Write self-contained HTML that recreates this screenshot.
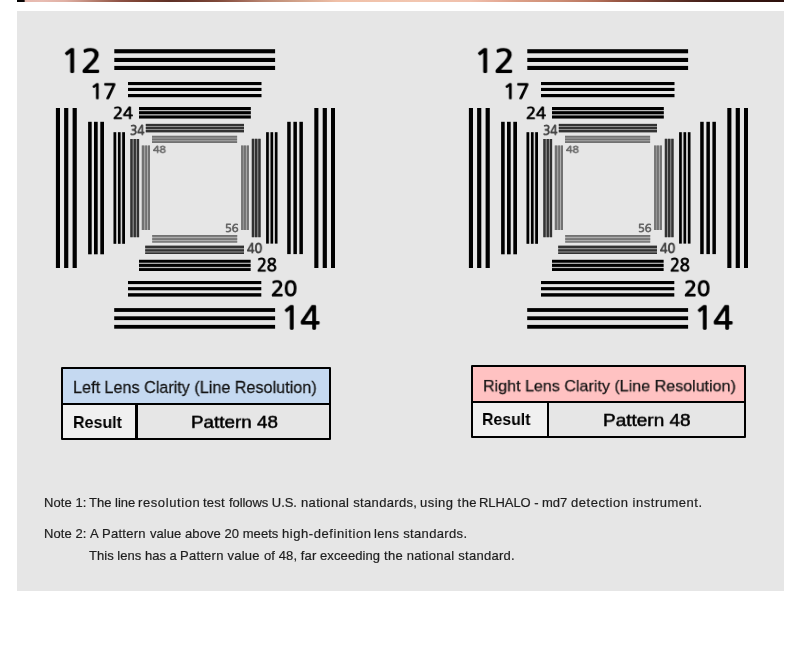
<!DOCTYPE html>
<html lang="en">
<head>
<meta charset="utf-8">
<title>Lens Clarity Line Resolution Test</title>
<style>
html,body{margin:0;padding:0;background:#fff;}
body{width:800px;height:652px;position:relative;overflow:hidden;font-family:"Liberation Sans",sans-serif;color:#1a1a1a;}
.strip,.strip2{position:absolute;left:17px;width:767px;height:1px;
 background:linear-gradient(90deg,#000 0px,#0a0606 7px,#e6b8ae 8.5px,#e8bcb2 25px,#e0b0a4 48px,#cc988a 63px,#b47c6c 78px,#9e6454 92px,#8c5044 104px,#78402f 125px,#5e3026 153px,#6a382c 175px,#7e4838 200px,#986050 220px,#b88470 245px,#cc9c84 273px,#e0b098 300px,#f0c0a8 320px,#f2c6b0 400px,#f0c0ac 453px,#e6ac98 480px,#dca088 500px,#cc8c74 543px,#b4705a 580px,#9a5844 600px,#84483a 625px,#6e3c30 643px,#552a22 670px,#3c1a14 700px,#34140f 740px,#2c100c 767px);}
.strip{top:0;}
.strip2{top:1px;opacity:1;}
.panel{position:absolute;left:17px;top:11px;width:767px;height:579.8px;background:#e6e6e6;}
svg.pat{position:absolute;left:0;top:0;width:800px;height:652px;}
.bx{position:absolute;}
.t{position:absolute;line-height:1;white-space:nowrap;transform-origin:0 0;will-change:transform;}
</style>
</head>
<body>
<div class="strip"></div>
<div class="strip2"></div>
<div class="panel"></div>
<svg class="pat" viewBox="0 0 800 652" width="800" height="652">
<g id="patL">
<rect x="114.30" y="49.20" width="160.80" height="4.10" fill="#000"/>
<rect x="114.30" y="57.90" width="160.80" height="4.10" fill="#000"/>
<rect x="114.30" y="65.90" width="160.80" height="4.10" fill="#000"/>
<rect x="128.00" y="82.00" width="133.50" height="3.10" fill="#000"/>
<rect x="128.00" y="87.90" width="133.50" height="3.10" fill="#000"/>
<rect x="128.00" y="94.00" width="133.50" height="3.20" fill="#000"/>
<rect x="139.00" y="107.00" width="111.80" height="11.50" fill="#bcbcbc"/>
<rect x="139.00" y="107.00" width="111.80" height="3.00" fill="#000"/>
<rect x="139.00" y="111.20" width="111.80" height="3.00" fill="#000"/>
<rect x="139.00" y="115.50" width="111.80" height="3.00" fill="#000"/>
<rect x="145.80" y="123.90" width="98.20" height="8.40" fill="#8e8e8e"/>
<rect x="145.80" y="123.90" width="98.20" height="2.10" fill="#323232"/>
<rect x="145.80" y="127.00" width="98.20" height="2.00" fill="#323232"/>
<rect x="145.80" y="130.00" width="98.20" height="2.30" fill="#323232"/>
<rect x="152.00" y="135.80" width="85.10" height="7.20" fill="#acacac"/>
<rect x="152.00" y="135.80" width="85.10" height="1.80" fill="#727272"/>
<rect x="152.00" y="138.50" width="85.10" height="1.80" fill="#727272"/>
<rect x="152.00" y="141.20" width="85.10" height="1.80" fill="#727272"/>
<rect x="152.20" y="235.00" width="85.00" height="7.60" fill="#acacac"/>
<rect x="152.20" y="235.00" width="85.00" height="1.80" fill="#727272"/>
<rect x="152.20" y="238.20" width="85.00" height="1.70" fill="#727272"/>
<rect x="152.20" y="241.20" width="85.00" height="1.40" fill="#727272"/>
<rect x="145.20" y="245.70" width="98.80" height="8.30" fill="#8e8e8e"/>
<rect x="145.20" y="245.70" width="98.80" height="2.30" fill="#323232"/>
<rect x="145.20" y="249.30" width="98.80" height="2.10" fill="#323232"/>
<rect x="145.20" y="252.50" width="98.80" height="1.50" fill="#323232"/>
<rect x="139.00" y="259.80" width="111.60" height="11.20" fill="#bcbcbc"/>
<rect x="139.00" y="259.80" width="111.60" height="2.90" fill="#000"/>
<rect x="139.00" y="263.90" width="111.60" height="3.00" fill="#000"/>
<rect x="139.00" y="268.10" width="111.60" height="2.90" fill="#000"/>
<rect x="128.00" y="281.00" width="133.30" height="3.10" fill="#000"/>
<rect x="128.00" y="287.10" width="133.30" height="3.20" fill="#000"/>
<rect x="128.00" y="293.20" width="133.30" height="3.40" fill="#000"/>
<rect x="114.20" y="308.10" width="160.90" height="3.80" fill="#000"/>
<rect x="114.20" y="316.30" width="160.90" height="3.80" fill="#000"/>
<rect x="114.20" y="324.90" width="160.90" height="3.80" fill="#000"/>
<rect x="55.90" y="108.00" width="4.10" height="160.00" fill="#000"/>
<rect x="64.10" y="108.00" width="4.20" height="160.00" fill="#000"/>
<rect x="72.60" y="108.00" width="4.20" height="160.00" fill="#000"/>
<rect x="88.10" y="121.80" width="3.60" height="132.50" fill="#000"/>
<rect x="94.00" y="121.80" width="3.70" height="132.50" fill="#000"/>
<rect x="100.30" y="121.80" width="3.70" height="132.50" fill="#000"/>
<rect x="113.50" y="132.20" width="11.50" height="111.60" fill="#d4d4d4"/>
<rect x="113.50" y="132.20" width="2.70" height="111.60" fill="#000"/>
<rect x="118.00" y="132.20" width="2.60" height="111.60" fill="#000"/>
<rect x="122.20" y="132.20" width="2.80" height="111.60" fill="#000"/>
<rect x="130.30" y="139.00" width="8.80" height="98.20" fill="#8e8e8e"/>
<rect x="130.30" y="139.00" width="2.30" height="98.20" fill="#323232"/>
<rect x="133.80" y="139.00" width="2.10" height="98.20" fill="#323232"/>
<rect x="137.00" y="139.00" width="2.10" height="98.20" fill="#323232"/>
<rect x="141.80" y="145.50" width="8.20" height="84.50" fill="#acacac"/>
<rect x="141.80" y="145.50" width="2.40" height="84.50" fill="#727272"/>
<rect x="145.20" y="145.50" width="1.80" height="84.50" fill="#727272"/>
<rect x="148.00" y="145.50" width="2.00" height="84.50" fill="#727272"/>
<rect x="241.10" y="145.50" width="7.80" height="84.50" fill="#acacac"/>
<rect x="241.10" y="145.50" width="1.80" height="84.50" fill="#727272"/>
<rect x="243.60" y="145.50" width="2.30" height="84.50" fill="#727272"/>
<rect x="246.90" y="145.50" width="2.00" height="84.50" fill="#727272"/>
<rect x="251.80" y="138.80" width="8.80" height="98.40" fill="#8e8e8e"/>
<rect x="251.80" y="138.80" width="2.20" height="98.40" fill="#323232"/>
<rect x="255.00" y="138.80" width="2.20" height="98.40" fill="#323232"/>
<rect x="258.30" y="138.80" width="2.30" height="98.40" fill="#323232"/>
<rect x="266.10" y="132.20" width="11.40" height="111.40" fill="#d4d4d4"/>
<rect x="266.10" y="132.20" width="2.70" height="111.40" fill="#000"/>
<rect x="270.50" y="132.20" width="2.60" height="111.40" fill="#000"/>
<rect x="274.90" y="132.20" width="2.60" height="111.40" fill="#000"/>
<rect x="287.20" y="121.80" width="3.50" height="132.30" fill="#000"/>
<rect x="293.40" y="121.80" width="3.50" height="132.30" fill="#000"/>
<rect x="299.40" y="121.80" width="3.50" height="132.30" fill="#000"/>
<rect x="314.30" y="108.00" width="4.10" height="160.00" fill="#000"/>
<rect x="322.70" y="108.00" width="4.20" height="160.00" fill="#000"/>
<rect x="331.00" y="108.00" width="4.00" height="160.00" fill="#000"/>
</g>
<g id="patR">
<rect x="527.30" y="49.20" width="160.80" height="4.10" fill="#000"/>
<rect x="527.30" y="57.90" width="160.80" height="4.10" fill="#000"/>
<rect x="527.30" y="65.90" width="160.80" height="4.10" fill="#000"/>
<rect x="541.00" y="82.00" width="133.50" height="3.10" fill="#000"/>
<rect x="541.00" y="87.90" width="133.50" height="3.10" fill="#000"/>
<rect x="541.00" y="94.00" width="133.50" height="3.20" fill="#000"/>
<rect x="552.00" y="107.00" width="111.80" height="11.50" fill="#bcbcbc"/>
<rect x="552.00" y="107.00" width="111.80" height="3.00" fill="#000"/>
<rect x="552.00" y="111.20" width="111.80" height="3.00" fill="#000"/>
<rect x="552.00" y="115.50" width="111.80" height="3.00" fill="#000"/>
<rect x="558.80" y="123.90" width="98.20" height="8.40" fill="#8e8e8e"/>
<rect x="558.80" y="123.90" width="98.20" height="2.10" fill="#323232"/>
<rect x="558.80" y="127.00" width="98.20" height="2.00" fill="#323232"/>
<rect x="558.80" y="130.00" width="98.20" height="2.30" fill="#323232"/>
<rect x="565.00" y="135.80" width="85.10" height="7.20" fill="#acacac"/>
<rect x="565.00" y="135.80" width="85.10" height="1.80" fill="#727272"/>
<rect x="565.00" y="138.50" width="85.10" height="1.80" fill="#727272"/>
<rect x="565.00" y="141.20" width="85.10" height="1.80" fill="#727272"/>
<rect x="565.20" y="235.00" width="85.00" height="7.60" fill="#acacac"/>
<rect x="565.20" y="235.00" width="85.00" height="1.80" fill="#727272"/>
<rect x="565.20" y="238.20" width="85.00" height="1.70" fill="#727272"/>
<rect x="565.20" y="241.20" width="85.00" height="1.40" fill="#727272"/>
<rect x="558.20" y="245.70" width="98.80" height="8.30" fill="#8e8e8e"/>
<rect x="558.20" y="245.70" width="98.80" height="2.30" fill="#323232"/>
<rect x="558.20" y="249.30" width="98.80" height="2.10" fill="#323232"/>
<rect x="558.20" y="252.50" width="98.80" height="1.50" fill="#323232"/>
<rect x="552.00" y="259.80" width="111.60" height="11.20" fill="#bcbcbc"/>
<rect x="552.00" y="259.80" width="111.60" height="2.90" fill="#000"/>
<rect x="552.00" y="263.90" width="111.60" height="3.00" fill="#000"/>
<rect x="552.00" y="268.10" width="111.60" height="2.90" fill="#000"/>
<rect x="541.00" y="281.00" width="133.30" height="3.10" fill="#000"/>
<rect x="541.00" y="287.10" width="133.30" height="3.20" fill="#000"/>
<rect x="541.00" y="293.20" width="133.30" height="3.40" fill="#000"/>
<rect x="527.20" y="308.10" width="160.90" height="3.80" fill="#000"/>
<rect x="527.20" y="316.30" width="160.90" height="3.80" fill="#000"/>
<rect x="527.20" y="324.90" width="160.90" height="3.80" fill="#000"/>
<rect x="468.90" y="108.00" width="4.10" height="160.00" fill="#000"/>
<rect x="477.10" y="108.00" width="4.20" height="160.00" fill="#000"/>
<rect x="485.60" y="108.00" width="4.20" height="160.00" fill="#000"/>
<rect x="501.10" y="121.80" width="3.60" height="132.50" fill="#000"/>
<rect x="507.00" y="121.80" width="3.70" height="132.50" fill="#000"/>
<rect x="513.30" y="121.80" width="3.70" height="132.50" fill="#000"/>
<rect x="526.50" y="132.20" width="11.50" height="111.60" fill="#d4d4d4"/>
<rect x="526.50" y="132.20" width="2.70" height="111.60" fill="#000"/>
<rect x="531.00" y="132.20" width="2.60" height="111.60" fill="#000"/>
<rect x="535.20" y="132.20" width="2.80" height="111.60" fill="#000"/>
<rect x="543.30" y="139.00" width="8.80" height="98.20" fill="#8e8e8e"/>
<rect x="543.30" y="139.00" width="2.30" height="98.20" fill="#323232"/>
<rect x="546.80" y="139.00" width="2.10" height="98.20" fill="#323232"/>
<rect x="550.00" y="139.00" width="2.10" height="98.20" fill="#323232"/>
<rect x="554.80" y="145.50" width="8.20" height="84.50" fill="#acacac"/>
<rect x="554.80" y="145.50" width="2.40" height="84.50" fill="#727272"/>
<rect x="558.20" y="145.50" width="1.80" height="84.50" fill="#727272"/>
<rect x="561.00" y="145.50" width="2.00" height="84.50" fill="#727272"/>
<rect x="654.10" y="145.50" width="7.80" height="84.50" fill="#acacac"/>
<rect x="654.10" y="145.50" width="1.80" height="84.50" fill="#727272"/>
<rect x="656.60" y="145.50" width="2.30" height="84.50" fill="#727272"/>
<rect x="659.90" y="145.50" width="2.00" height="84.50" fill="#727272"/>
<rect x="664.80" y="138.80" width="8.80" height="98.40" fill="#8e8e8e"/>
<rect x="664.80" y="138.80" width="2.20" height="98.40" fill="#323232"/>
<rect x="668.00" y="138.80" width="2.20" height="98.40" fill="#323232"/>
<rect x="671.30" y="138.80" width="2.30" height="98.40" fill="#323232"/>
<rect x="679.10" y="132.20" width="11.40" height="111.40" fill="#d4d4d4"/>
<rect x="679.10" y="132.20" width="2.70" height="111.40" fill="#000"/>
<rect x="683.50" y="132.20" width="2.60" height="111.40" fill="#000"/>
<rect x="687.90" y="132.20" width="2.60" height="111.40" fill="#000"/>
<rect x="700.20" y="121.80" width="3.50" height="132.30" fill="#000"/>
<rect x="706.40" y="121.80" width="3.50" height="132.30" fill="#000"/>
<rect x="712.40" y="121.80" width="3.50" height="132.30" fill="#000"/>
<rect x="727.30" y="108.00" width="4.10" height="160.00" fill="#000"/>
<rect x="735.70" y="108.00" width="4.20" height="160.00" fill="#000"/>
<rect x="744.00" y="108.00" width="4.00" height="160.00" fill="#000"/>
</g>
</svg>
<div class="bx" style="left:61.1px;top:367.1px;width:269.80px;height:72.60px;background:#000;border-radius:1px;"></div>
<div class="bx" style="left:62.7px;top:368.70000000000005px;width:266.60px;height:34.00px;background:#c5d9f1;"></div>
<div class="bx" style="left:62.7px;top:404.5px;width:72.80px;height:33.60px;background:#f0f0f0;"></div>
<div class="bx" style="left:137.6px;top:404.5px;width:191.70px;height:33.60px;background:#e6e6e6;"></div>
<div class="bx" style="left:471.1px;top:365.1px;width:274.80px;height:72.50px;background:#000;border-radius:1px;"></div>
<div class="bx" style="left:472.70000000000005px;top:366.70000000000005px;width:271.60px;height:33.90px;background:#ffc2c2;"></div>
<div class="bx" style="left:472.70000000000005px;top:402.5px;width:74.40px;height:33.50px;background:#f0f0f0;"></div>
<div class="bx" style="left:549.0px;top:402.5px;width:195.30px;height:33.50px;background:#e6e6e6;"></div>
<div class="t" id="d12L" style="left:60.97px;top:45.62px;font-size:35px;color:#000;font-family:'NanumGothic','Liberation Sans',sans-serif;-webkit-text-stroke:1.75px #000;transform:scale(0.9542,0.8747);">12</div>
<div class="t" id="d17L" style="left:89.63px;top:80.96px;font-size:23px;color:#000;font-family:'NanumGothic','Liberation Sans',sans-serif;-webkit-text-stroke:1.38px #000;transform:scale(0.9485,0.8784);">17</div>
<div class="t" id="d24L" style="left:112.57px;top:106.36px;font-size:19px;color:#000;font-family:'NanumGothic','Liberation Sans',sans-serif;-webkit-text-stroke:1.14px #000;transform:scale(0.8667,0.7967);">24</div>
<div class="t" id="d34L" style="left:129.58px;top:123.57px;font-size:14px;color:#444;font-family:'NanumGothic','Liberation Sans',sans-serif;-webkit-text-stroke:0.98px #444;transform:scale(0.8485,0.8957);">34</div>
<div class="t" id="d48L" style="left:152.61px;top:145.20px;font-size:11px;color:#666;font-family:'NanumGothic','Liberation Sans',sans-serif;-webkit-text-stroke:0.77px #666;transform:scale(0.9585,0.8556);">48</div>
<div class="t" id="d56L" style="left:225.23px;top:223.08px;font-size:11px;color:#666;font-family:'NanumGothic','Liberation Sans',sans-serif;-webkit-text-stroke:0.77px #666;transform:scale(1.0204,1.0222);">56</div>
<div class="t" id="d40L" style="left:247.00px;top:242.00px;font-size:14px;color:#444;font-family:'NanumGothic','Liberation Sans',sans-serif;-webkit-text-stroke:0.98px #444;transform:scale(0.8955,0.9130);">40</div>
<div class="t" id="d28L" style="left:256.94px;top:256.89px;font-size:19px;color:#000;font-family:'NanumGothic','Liberation Sans',sans-serif;-webkit-text-stroke:1.14px #000;transform:scale(0.8545,0.8903);">28</div>
<div class="t" id="d20L" style="left:271.36px;top:277.52px;font-size:23.5px;color:#000;font-family:'NanumGothic','Liberation Sans',sans-serif;-webkit-text-stroke:1.41px #000;transform:scale(0.9138,0.8895);">20</div>
<div class="t" id="d14L" style="left:281.34px;top:302.97px;font-size:35px;color:#000;font-family:'NanumGothic','Liberation Sans',sans-serif;-webkit-text-stroke:1.75px #000;transform:scale(0.9158,0.8625);">14</div>
<div class="t" id="d12R" style="left:473.96px;top:45.62px;font-size:35px;color:#000;font-family:'NanumGothic','Liberation Sans',sans-serif;-webkit-text-stroke:1.75px #000;transform:scale(0.9542,0.8747);">12</div>
<div class="t" id="d17R" style="left:502.63px;top:80.96px;font-size:23px;color:#000;font-family:'NanumGothic','Liberation Sans',sans-serif;-webkit-text-stroke:1.38px #000;transform:scale(0.9485,0.8784);">17</div>
<div class="t" id="d24R" style="left:525.57px;top:106.36px;font-size:19px;color:#000;font-family:'NanumGothic','Liberation Sans',sans-serif;-webkit-text-stroke:1.14px #000;transform:scale(0.8667,0.7967);">24</div>
<div class="t" id="d34R" style="left:542.58px;top:123.57px;font-size:14px;color:#444;font-family:'NanumGothic','Liberation Sans',sans-serif;-webkit-text-stroke:0.98px #444;transform:scale(0.8485,0.8957);">34</div>
<div class="t" id="d48R" style="left:565.61px;top:145.20px;font-size:11px;color:#666;font-family:'NanumGothic','Liberation Sans',sans-serif;-webkit-text-stroke:0.77px #666;transform:scale(0.9585,0.8556);">48</div>
<div class="t" id="d56R" style="left:638.23px;top:223.08px;font-size:11px;color:#666;font-family:'NanumGothic','Liberation Sans',sans-serif;-webkit-text-stroke:0.77px #666;transform:scale(1.0204,1.0222);">56</div>
<div class="t" id="d40R" style="left:660.00px;top:242.00px;font-size:14px;color:#444;font-family:'NanumGothic','Liberation Sans',sans-serif;-webkit-text-stroke:0.98px #444;transform:scale(0.8955,0.9130);">40</div>
<div class="t" id="d28R" style="left:669.94px;top:256.89px;font-size:19px;color:#000;font-family:'NanumGothic','Liberation Sans',sans-serif;-webkit-text-stroke:1.14px #000;transform:scale(0.8545,0.8903);">28</div>
<div class="t" id="d20R" style="left:684.36px;top:277.52px;font-size:23.5px;color:#000;font-family:'NanumGothic','Liberation Sans',sans-serif;-webkit-text-stroke:1.41px #000;transform:scale(0.9138,0.8895);">20</div>
<div class="t" id="d14R" style="left:694.34px;top:302.97px;font-size:35px;color:#000;font-family:'NanumGothic','Liberation Sans',sans-serif;-webkit-text-stroke:1.75px #000;transform:scale(0.9158,0.8625);">14</div>
<div class="t" id="hL" style="left:73.22px;top:378.70px;font-size:17px;color:#141414;-webkit-text-stroke:0.25px #141414;transform:scale(0.9514,1.0213);">Left Lens Clarity (Line Resolution)</div>
<div class="t" id="rL" style="left:73.43px;top:414.14px;font-size:17px;color:#000;font-weight:bold;transform:scale(0.9426,1.0043);">Result</div>
<div class="t" id="pL" style="left:190.69px;top:413.53px;font-size:18px;color:#000;-webkit-text-stroke:0.5px #000;transform:scale(1.0462,0.9228);">Pattern 48</div>
<div class="t" id="hR" style="left:483.43px;top:377.74px;font-size:17px;color:#141414;-webkit-text-stroke:0.25px #141414;transform:scale(0.9457,0.9476);">Right Lens Clarity (Line Resolution)</div>
<div class="t" id="rR" style="left:482.45px;top:410.74px;font-size:17px;color:#000;font-weight:bold;transform:scale(0.9327,1.0043);">Result</div>
<div class="t" id="pR" style="left:603.26px;top:412.31px;font-size:18px;color:#000;-webkit-text-stroke:0.5px #000;transform:scale(1.0551,0.9369);">Pattern 48</div>
<div class="t" id="n1_0" style="left:43.60px;top:496.00px;font-size:13px;color:#1e1e1e;-webkit-text-stroke:0.2px #1e1e1e;letter-spacing:0.075px;">Note 1:</div>
<div class="t" id="n1_1" style="left:89.35px;top:496.00px;font-size:13px;color:#1e1e1e;-webkit-text-stroke:0.2px #1e1e1e;letter-spacing:0.014px;">The line</div>
<div class="t" id="n1_2" style="left:138.25px;top:496.00px;font-size:13px;color:#1e1e1e;-webkit-text-stroke:0.2px #1e1e1e;letter-spacing:0.594px;">resolution</div>
<div class="t" id="n1_3" style="left:203.00px;top:496.00px;font-size:13px;color:#1e1e1e;-webkit-text-stroke:0.2px #1e1e1e;letter-spacing:0.200px;">test</div>
<div class="t" id="n1_4" style="left:229.00px;top:496.00px;font-size:13px;color:#1e1e1e;-webkit-text-stroke:0.2px #1e1e1e;letter-spacing:-0.064px;">follows U.S.</div>
<div class="t" id="n1_5" style="left:301.25px;top:496.00px;font-size:13px;color:#1e1e1e;-webkit-text-stroke:0.2px #1e1e1e;letter-spacing:0.339px;">national standards,</div>
<div class="t" id="n1_6" style="left:420.45px;top:496.00px;font-size:13px;color:#1e1e1e;-webkit-text-stroke:0.2px #1e1e1e;letter-spacing:0.475px;">using the</div>
<div class="t" id="n1_7" style="left:479.00px;top:496.00px;font-size:13px;color:#1e1e1e;-webkit-text-stroke:0.2px #1e1e1e;letter-spacing:-0.059px;">RLHALO - md7</div>
<div class="t" id="n1_8" style="left:571.10px;top:496.00px;font-size:13px;color:#1e1e1e;-webkit-text-stroke:0.2px #1e1e1e;letter-spacing:0.520px;">detection instrument.</div>
<div class="t" id="n2_0" style="left:43.60px;top:527.00px;font-size:13px;color:#1e1e1e;-webkit-text-stroke:0.2px #1e1e1e;letter-spacing:0.075px;">Note 2:</div>
<div class="t" id="n2_1" style="left:89.60px;top:527.00px;font-size:13px;color:#1e1e1e;-webkit-text-stroke:0.2px #1e1e1e;letter-spacing:0.256px;">A Pattern</div>
<div class="t" id="n2_2" style="left:150.00px;top:527.00px;font-size:13px;color:#1e1e1e;-webkit-text-stroke:0.2px #1e1e1e;letter-spacing:0.061px;">value above 20 meets</div>
<div class="t" id="n2_3" style="left:281.65px;top:527.00px;font-size:13px;color:#1e1e1e;-webkit-text-stroke:0.2px #1e1e1e;letter-spacing:0.571px;">high-definition</div>
<div class="t" id="n2_4" style="left:374.05px;top:527.00px;font-size:13px;color:#1e1e1e;-webkit-text-stroke:0.2px #1e1e1e;letter-spacing:0.346px;">lens standards.</div>
<div class="t" id="n3_0" style="left:89.15px;top:549.00px;font-size:13px;color:#1e1e1e;-webkit-text-stroke:0.2px #1e1e1e;letter-spacing:0.025px;">This lens has a</div>
<div class="t" id="n3_1" style="left:180.00px;top:549.00px;font-size:13px;color:#1e1e1e;-webkit-text-stroke:0.2px #1e1e1e;letter-spacing:0.246px;">Pattern value</div>
<div class="t" id="n3_2" style="left:264.30px;top:549.00px;font-size:13px;color:#1e1e1e;-webkit-text-stroke:0.2px #1e1e1e;letter-spacing:0.100px;">of 48, far exceeding</div>
<div class="t" id="n3_3" style="left:384.40px;top:549.00px;font-size:13px;color:#1e1e1e;-webkit-text-stroke:0.2px #1e1e1e;letter-spacing:0.267px;">the national standard.</div>
</body>
</html>
